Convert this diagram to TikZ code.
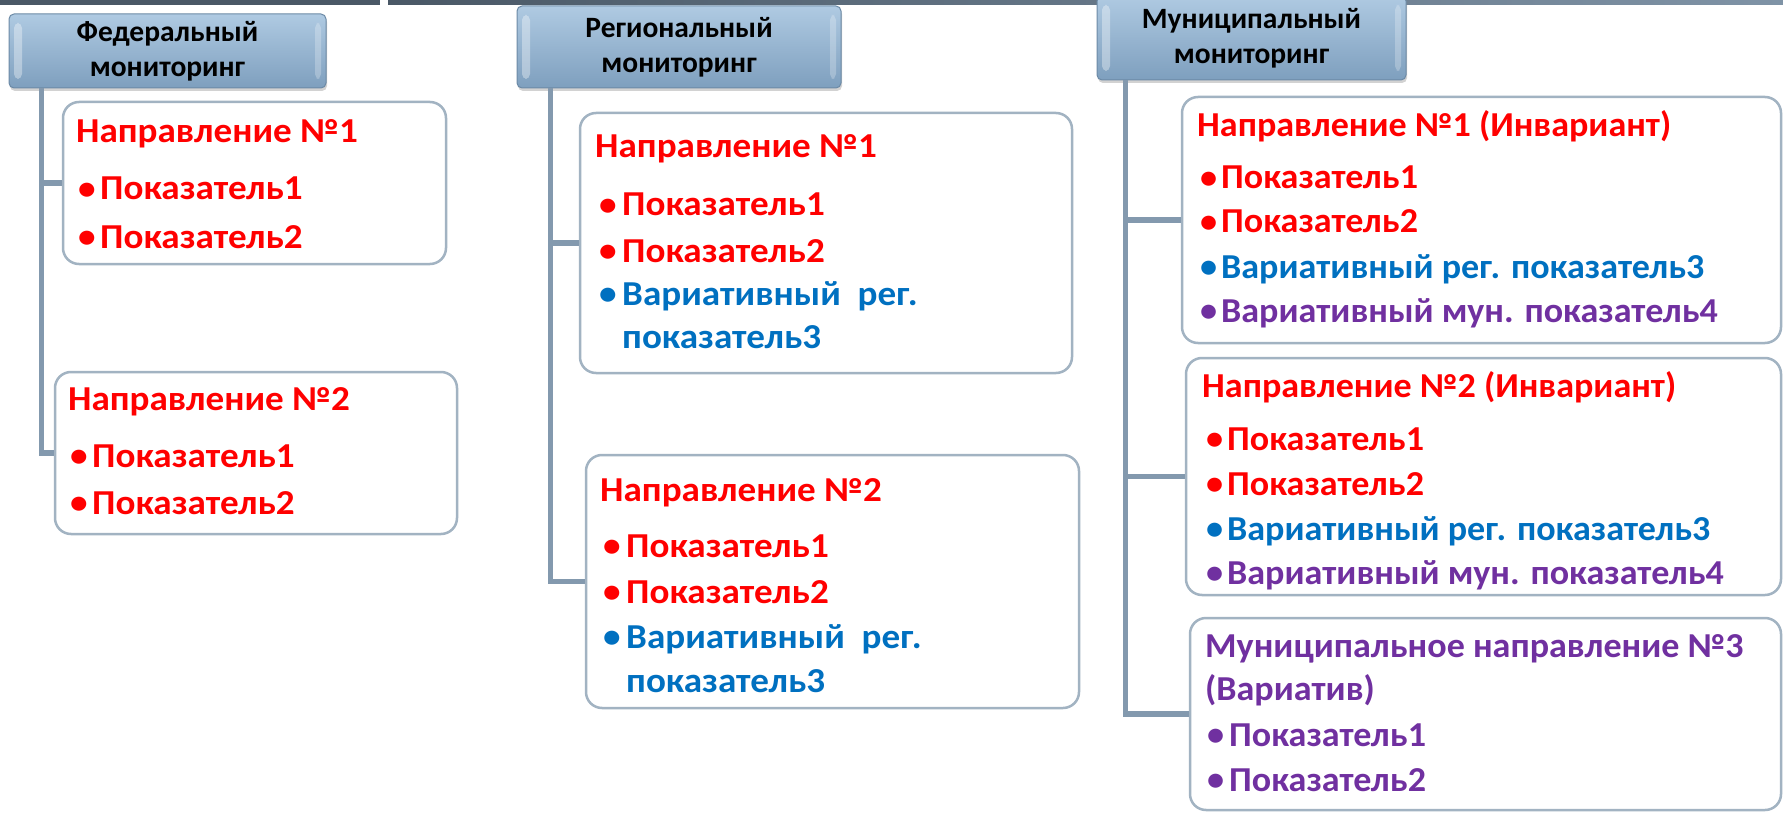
\documentclass[tikz,border=0pt]{standalone}
\usepackage{fontspec}
\setmainfont{Carlito}
\newfontfamily\widefont{Carlito}[FakeStretch=1.06]
\newfontfamily\condfont{Carlito}[FakeStretch=1.03]
\usetikzlibrary{shadows}
\definecolor{tred}{HTML}{FF0000}
\definecolor{tblue}{HTML}{0070C0}
\definecolor{tpurp}{HTML}{7030A0}
\definecolor{connc}{HTML}{8399AE}
\definecolor{boxd}{HTML}{A2B3C2}
\definecolor{hdrtop}{HTML}{AFCAE2}
\definecolor{hdrbot}{HTML}{7E9FBE}
\definecolor{hdrline}{HTML}{6C8AA6}
\definecolor{stripa}{HTML}{4A5866}
\definecolor{stripb}{HTML}{7F93A6}
\newcommand{\bul}[1][22pt]{\makebox[#1][l]{\raisebox{0.5pt}{\scalebox{0.95}{•}}}}
\tikzset{
  conn/.style={draw=connc, line width=5.5pt},
  hdr/.style={rectangle, rounded corners=5pt, top color=hdrtop, bottom color=hdrbot,
    draw=hdrline, line width=1pt,
    drop shadow={shadow xshift=1pt, shadow yshift=-3pt, opacity=0.35},
    path picture={
      \fill[white, opacity=0.35] ([xshift=5pt,yshift=9pt]path picture bounding box.south west)
        rectangle ([xshift=13pt,yshift=-9pt]path picture bounding box.north west);
      \fill[white, opacity=0.25] ([xshift=-5pt,yshift=9pt]path picture bounding box.south east)
        rectangle ([xshift=-11pt,yshift=-9pt]path picture bounding box.north east);},
    font=\bfseries\fontsize{29.5}{35}\selectfont, align=center, inner sep=0pt},
  ibox/.style={rectangle, rounded corners=16pt, draw=boxd, line width=2.5pt, fill=white, inner sep=0pt},
  txt/.style={anchor=base west, inner sep=0pt, font=\widefont\bfseries\fontsize{35}{40}\selectfont},
  mtxt/.style={anchor=base west, inner sep=0pt, font=\condfont\bfseries\fontsize{35}{40}\selectfont},
}
\begin{document}
\begin{tikzpicture}[x=1pt, y=-1pt]
\useasboundingbox (0,0) rectangle (1783,813);
\fill[white] (0,0) rectangle (1783,813);
% top strip
\fill[stripa] (0,0) rectangle (380,5);
\fill[left color=stripa, right color=stripb] (388,0) rectangle (1783,5);

% headers
\node[hdr, minimum width=317pt, minimum height=74pt] (fed) at (167.5,51) {Федеральный\\мониторинг};
\node[hdr, minimum width=324pt, minimum height=82pt] (reg) at (679,47) {Региональный\\мониторинг};
\node[hdr, minimum width=309pt, minimum height=84pt] (mun) at (1251.5,38) {Муниципальный\\мониторинг};

% boxes
\node[ibox, minimum width=383pt, minimum height=162pt] (fb1) at (254.5,183) {};
\node[ibox, minimum width=402pt, minimum height=162pt] (fb2) at (256,453) {};
\node[ibox, minimum width=492pt, minimum height=260pt] (rb1) at (826,243) {};
\node[ibox, minimum width=493pt, minimum height=253pt] (rb2) at (832.5,581.5) {};
\node[ibox, minimum width=599pt, minimum height=246pt] (mb1) at (1481.5,220) {};
\node[ibox, minimum width=595pt, minimum height=237pt] (mb2) at (1483.5,476.5) {};
\node[ibox, minimum width=591pt, minimum height=192pt] (mb3) at (1485.5,714) {};

% connectors
\draw[conn] ([xshift=33pt]fed.south west) |- (fb1.west);
\draw[conn] ([xshift=33pt]fed.south west) |- (fb2.west);
\draw[conn] ([xshift=34pt]reg.south west) |- (rb1.west);
\draw[conn] ([xshift=34pt]reg.south west) |- (rb2.west);
\draw[conn] ([xshift=29pt]mun.south west) |- (mb1.west);
\draw[conn] ([xshift=29pt]mun.south west) |- (mb2.west);
\draw[conn] ([xshift=29pt]mun.south west) |- (mb3.west);

% federal texts
\node[txt, text=tred] (f1h) at (76,143) {Направление №1};
\node[txt, text=tred] (f1a) at (78,200) {\bul Показатель1};
\node[txt, text=tred] (f1b) at (78,248) {\bul Показатель2};
\node[txt, text=tred] (f2h) at (68,410) {Направление №2};
\node[txt, text=tred] (f2a) at (70,467) {\bul Показатель1};
\node[txt, text=tred] (f2b) at (70,514) {\bul Показатель2};

% regional texts
\node[txt, text=tred] (r1h) at (595,158) {Направление №1};
\node[txt, text=tred] (r1a) at (599,216) {\bul[23pt]Показатель1};
\node[txt, text=tred] (r1b) at (599,262) {\bul[23pt]Показатель2};
\node[txt, text=tblue] (r1c) at (599,305) {\bul[23pt]Вариативный\ \ рег.};
\node[txt, text=tblue] (r1d) at (622,348) {показатель3};
\node[txt, text=tred] (r2h) at (600,501) {Направление №2};
\node[txt, text=tred] (r2a) at (603,557) {\bul[23pt]Показатель1};
\node[txt, text=tred] (r2b) at (603,603) {\bul[23pt]Показатель2};
\node[txt, text=tblue] (r2c) at (603,648) {\bul[23pt]Вариативный\ \ рег.};
\node[txt, text=tblue] (r2d) at (626,692) {показатель3};

% municipal texts
\node[mtxt, text=tred] (m1h) at (1197,137) {Направление №1 (Инвариант)};
\node[mtxt, text=tred] (m1a) at (1200,189) {\bul[21pt]Показатель1};
\node[mtxt, text=tred] (m1b) at (1200,233) {\bul[21pt]Показатель2};
\node[mtxt, text=tblue] (m1c) at (1200,278) {\bul[21pt]Вариативный рег. показатель3};
\node[mtxt, text=tpurp] (m1d) at (1200,322) {\bul[21pt]Вариативный мун. показатель4};
\node[mtxt, text=tred] (m2h) at (1202,397) {Направление №2 (Инвариант)};
\node[mtxt, text=tred] (m2a) at (1206,450) {\bul[21pt]Показатель1};
\node[mtxt, text=tred] (m2b) at (1206,495) {\bul[21pt]Показатель2};
\node[mtxt, text=tblue] (m2c) at (1206,540) {\bul[21pt]Вариативный рег. показатель3};
\node[mtxt, text=tpurp] (m2d) at (1206,584) {\bul[21pt]Вариативный мун. показатель4};
\node[mtxt, text=tpurp] (m3h) at (1205,657) {Муниципальное направление №3};
\node[mtxt, text=tpurp] (m3i) at (1205,700) {(Вариатив)};
\node[mtxt, text=tpurp] (m3a) at (1207,746) {\bul[22pt]Показатель1};
\node[mtxt, text=tpurp] (m3b) at (1207,791) {\bul[22pt]Показатель2};
\end{tikzpicture}
\end{document}
